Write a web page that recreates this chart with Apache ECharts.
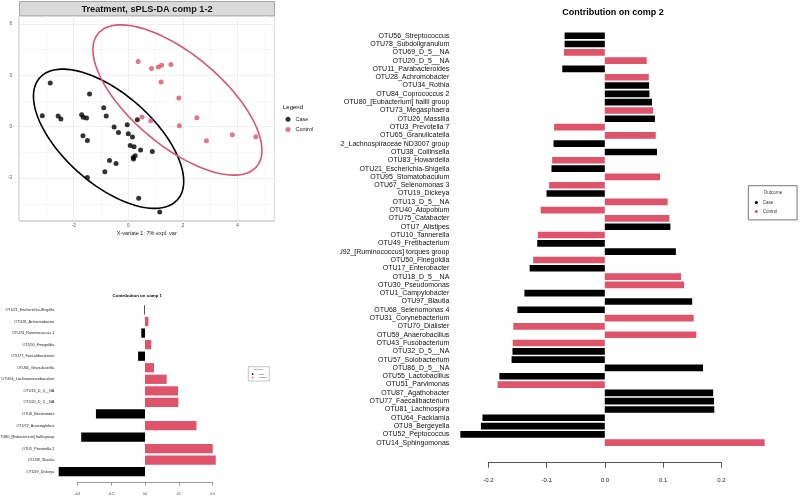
<!DOCTYPE html>
<html>
<head>
<meta charset="utf-8">
<script src="https://cdn.jsdelivr.net/npm/echarts@6.0.0/dist/echarts.min.js"></script>
<style>
html,body{margin:0;padding:0;background:#ffffff;width:800px;height:498px;overflow:hidden}
#a{position:absolute;left:0;top:0;width:340px;height:498px}
#b{position:absolute;left:340px;top:0;width:460px;height:498px}
</style>
</head>
<body>
<div id="a"></div>
<div id="b"></div>
<script>
// ---------------- data ----------------
const caseX = [-2.86,-3.15,-2.57,-2.47,-1.42,-1.71,-1.65,-1.53,-1.66,-1.50,-1.50,-0.90,-0.81,-0.52,-0.36,-0.69,-0.45,-0.86,-0.04,0.00,0.15,0.07,0.21,0.45,0.33,0.25,0.19,0.18,0.88,0.38,1.15];
const caseY = [2.55,0.64,0.62,0.45,1.91,0.70,0.55,0.51,-0.53,-0.80,-2.96,1.11,0.62,-0.02,-0.33,-1.97,-2.14,-2.63,0.12,-0.41,-0.60,-1.09,-1.17,-1.36,0.41,-1.70,-1.89,-1.79,-1.44,-4.17,-4.97];
const controlX = [0.36,0.85,1.10,1.22,1.56,1.20,1.85,0.50,0.82,1.87,2.51,2.86,3.81,4.67];
const controlY = [3.80,3.39,3.49,3.58,3.63,2.61,1.68,0.57,0.35,0.06,0.53,-0.82,-0.47,-0.58];
const scatterXTicks = [-2,0,2,4];
const scatterYTicks = [-3,0,3,6];

const comp1Names = ["OTU21_Escherichia-Shigella","OTU28_Achromobacter","OTU74_Ruminococcus 1","OTU50_Finegoldia","OTU77_Faecalibacterium","OTU65_Granulicatella","OTU94_Lachnoanaerobaculum","OTU13_D_5__NA","OTU20_D_5__NA","OTU6_Bacteroides","OTU72_Anaeroglobus","OTU80_[Eubacterium] hallii group","OTU5_Prevotella 2","OTU39_Slackia","OTU19_Dickeya"];
const comp1Values = [-0.004,0.02,-0.022,0.037,-0.041,0.053,0.128,0.195,0.197,-0.29,0.304,-0.377,0.40,0.418,-0.51];
const comp1Outcome = ["Case","Control","Case","Control","Case","Control","Control","Control","Control","Case","Control","Case","Control","Control","Case"];
const comp1Ticks = [-0.4,-0.2,0.0,0.2,0.4];

const comp2Names = ["OTU56_Streptococcus","OTU78_Subdoligranulum","OTU69_D_5__NA","OTU20_D_5__NA","OTU11_Parabacteroides","OTU28_Achromobacter","OTU34_Rothia","OTU84_Coprococcus 2","OTU80_[Eubacterium] hallii group","OTU73_Megasphaera","OTU26_Massilia","OTU3_Prevotella 7","OTU65_Granulicatella","OTU42_Lachnospiraceae ND3007 group","OTU38_Collinsella","OTU83_Howardella","OTU21_Escherichia-Shigella","OTU95_Stomatobaculum","OTU67_Selenomonas 3","OTU19_Dickeya","OTU13_D_5__NA","OTU40_Atopobium","OTU75_Catabacter","OTU7_Alistipes","OTU10_Tannerella","OTU49_Fretibacterium","OTU92_[Ruminococcus] torques group","OTU50_Finegoldia","OTU17_Enterobacter","OTU18_D_5__NA","OTU30_Pseudomonas","OTU1_Campylobacter","OTU97_Blautia","OTU68_Selenomonas 4","OTU31_Corynebacterium","OTU70_Dialister","OTU59_Anaerobacillus","OTU43_Fusobacterium","OTU32_D_5__NA","OTU57_Solobacterium","OTU86_D_5__NA","OTU55_Lactobacillus","OTU51_Parvimonas","OTU87_Agathobacter","OTU77_Faecalibacterium","OTU81_Lachnospira","OTU64_Facklamia","OTU9_Bergeyella","OTU52_Peptococcus","OTU14_Sphingomonas"];
const comp2Values = [-0.069,-0.069,-0.070,0.072,-0.073,0.0755,0.076,0.0766,0.081,0.083,0.086,-0.087,0.0875,-0.088,0.0897,-0.0904,-0.0915,0.0949,-0.0955,-0.100,0.108,-0.110,0.111,0.1126,-0.115,-0.116,0.122,-0.123,-0.129,0.131,0.136,-0.138,0.150,-0.150,0.1526,-0.157,0.157,-0.158,-0.1585,-0.160,0.1686,-0.181,-0.184,0.186,0.1875,0.188,-0.210,-0.2127,-0.248,0.2744];
const comp2Outcome = ["Case","Case","Control","Control","Case","Control","Case","Case","Case","Control","Case","Control","Control","Case","Case","Control","Case","Control","Control","Case","Control","Control","Control","Case","Control","Case","Case","Control","Case","Control","Control","Case","Case","Case","Control","Control","Control","Control","Case","Case","Case","Case","Control","Case","Case","Case","Case","Case","Case","Control"];
const comp2Ticks = [-0.2,-0.1,0.0,0.1,0.2];

// ---------------- helpers ----------------
const FONT = "'Liberation Sans', Arial, Helvetica, sans-serif";
const BLACK = '#000000', RED = '#DF536B';
const MAJ = '#EBEBEB', MIN = '#F5F5F5';
function near(v, arr){ return arr.some(t => Math.abs(v - t) < 1e-6); }

// 95% confidence ellipse (normal, chi-square 2 df) computed from the points
function ellipsePts(xs, ys, level){
  const n = xs.length;
  const mx = xs.reduce((a,b)=>a+b,0)/n, my = ys.reduce((a,b)=>a+b,0)/n;
  let sxx=0, syy=0, sxy=0;
  for(let i=0;i<n;i++){ const dx=xs[i]-mx, dy=ys[i]-my; sxx+=dx*dx; syy+=dy*dy; sxy+=dx*dy; }
  sxx/=(n-1); syy/=(n-1); sxy/=(n-1);
  const t = Math.sqrt(-2*Math.log(1-level));
  const tr = sxx+syy, det = sxx*syy - sxy*sxy;
  const disc = Math.sqrt(Math.max(tr*tr/4 - det, 0));
  const l1 = tr/2 + disc, l2 = tr/2 - disc;
  let v1x = l1 - syy, v1y = sxy;
  let nn = Math.hypot(v1x, v1y);
  if (nn < 1e-12){ v1x = 1; v1y = 0; nn = 1; }
  v1x/=nn; v1y/=nn;
  const v2x = -v1y, v2y = v1x;
  const pts = [];
  for(let k=0;k<=120;k++){
    const th = 2*Math.PI*k/120;
    const a = t*Math.sqrt(l1)*Math.cos(th), b = t*Math.sqrt(Math.max(l2,0))*Math.sin(th);
    pts.push([mx + a*v1x + b*v2x, my + a*v1y + b*v2y]);
  }
  return pts;
}
function splitBy(values, outcome, key){
  return values.map((v,i)=> outcome[i]===key ? v : '-');
}

// ---------------- chart A: scatter + comp1 ----------------
const chartA = echarts.init(document.getElementById('a'));
chartA.setOption({
  animation:false,
  backgroundColor:'#ffffff',
  textStyle:{fontFamily:FONT},
  title:[
    {text:'Treatment, sPLS-DA comp 1-2', left:147, top:4.8, textAlign:'center', padding:0,
     textStyle:{fontSize:9.2, fontWeight:'bold', color:'#1a1a1a', fontFamily:FONT}},
    {text:'Contribution on comp 1', left:137.3, top:293.6, textAlign:'center', padding:0,
     textStyle:{fontSize:4.4, fontWeight:'bold', color:'#000', fontFamily:FONT}},
    {text:'Legend', left:283, top:104.6, padding:0,
     textStyle:{fontSize:6, fontWeight:'normal', color:'#000', fontFamily:FONT}},
    {text:'Outcome', left:258.5, top:367.8, textAlign:'center', padding:0,
     textStyle:{fontSize:2.5, fontWeight:'normal', color:'#444', fontFamily:FONT}}
  ],
  graphic:[
    {type:'rect', z:-1, shape:{x:19.5, y:1.5, width:255, height:14.5},
     style:{fill:'#D9D9D9', stroke:'#A6A6A6', lineWidth:1}}
  ],
  legend:[
    {data:['Case','Control'], orient:'vertical', left:285.5, top:116.3, itemWidth:5, itemHeight:5,
     itemGap:4.2, icon:'circle', padding:0, selectedMode:false,
     textStyle:{fontSize:5.5, color:'#1a1a1a', fontFamily:FONT}},
    {data:['Case','Control'], orient:'vertical', left:248.3, top:366.7, itemWidth:2, itemHeight:2,
     itemGap:0.6, icon:'circle', padding:[5.7,2.5,2,3.4], selectedMode:false,
     borderColor:'#888', borderWidth:0.5,
     textStyle:{fontSize:2.5, color:'#333', fontFamily:FONT}}
  ],
  grid:[
    {left:19.1, top:16, width:255.3, height:205, show:true, borderColor:'#B3B3B3', borderWidth:1, backgroundColor:'#ffffff', containLabel:false, outerBoundsMode:'none'},
    {left:57.0, top:304.2, width:164.2, height:173.3, containLabel:false, outerBoundsMode:'none'},
    {left:77.3, top:470, width:135.4, height:12.7, containLabel:false, outerBoundsMode:'none'}
  ],
  xAxis:[
    {gridIndex:0, type:'value', min:-4, max:5.35, interval:1,
     axisLine:{show:false}, axisTick:{show:false},
     axisLabel:{fontSize:4.5, color:'#4D4D4D', margin:2, fontFamily:FONT,
       formatter:v=> near(v, scatterXTicks) ? String(Math.round(v)) : ''},
     splitLine:{show:true, lineStyle:{color:[MAJ, MIN], width:0.8}},
     name:'X-variate 1: 7% expl. var', nameLocation:'middle', nameGap:9.5,
     nameTextStyle:{fontSize:5.5, color:'#1a1a1a', fontFamily:FONT}},
    {gridIndex:1, type:'value', min:-0.52, max:0.45, show:false},
    {gridIndex:2, type:'value', min:-0.4, max:0.4, interval:0.2,
     axisLine:{show:true, lineStyle:{color:'#555', width:0.6}},
     axisTick:{show:true, length:3, lineStyle:{color:'#555', width:0.6}},
     axisLabel:{fontSize:3, margin:9.8, color:'#222', fontFamily:FONT,
       formatter:v=> near(v, comp1Ticks) ? v.toFixed(1) : ''},
     splitLine:{show:false}}
  ],
  yAxis:[
    {gridIndex:0, type:'value', min:-5.5, max:6.46, interval:0.5,
     axisLine:{show:false}, axisTick:{show:false},
     axisLabel:{fontSize:4.5, color:'#4D4D4D', margin:7, fontFamily:FONT,
       formatter:v=> near(v, scatterYTicks) ? String(Math.round(v)) : ''},
     splitLine:{show:true, lineStyle:{color:['transparent','transparent',MIN,'transparent','transparent',MAJ], width:0.8}},
     name:'X-variate 2: 6% expl. var', nameLocation:'middle', nameGap:11.5, nameRotate:90,
     nameTextStyle:{fontSize:5.5, color:'#1a1a1a', fontFamily:FONT}},
    {gridIndex:1, type:'category', data:comp1Names, inverse:true,
     axisLine:{show:false}, axisTick:{show:false},
     axisLabel:{interval:0, fontSize:3.8, margin:2.7, color:'#222', fontFamily:FONT}},
    {gridIndex:2, type:'value', show:false}
  ],
  series:[
    {name:'Case ellipse', type:'line', xAxisIndex:0, yAxisIndex:0, data:ellipsePts(caseX, caseY, 0.95),
     symbol:'none', smooth:false, silent:true, z:2, lineStyle:{color:BLACK, width:1.6}},
    {name:'Control ellipse', type:'line', xAxisIndex:0, yAxisIndex:0, data:ellipsePts(controlX, controlY, 0.95),
     symbol:'none', smooth:false, silent:true, z:2, lineStyle:{color:RED, width:1.6}},
    {name:'Case', type:'scatter', xAxisIndex:0, yAxisIndex:0, data:caseX.map((x,i)=>[x, caseY[i]]),
     symbolSize:5, z:3, itemStyle:{color:BLACK}},
    {name:'Control', type:'scatter', xAxisIndex:0, yAxisIndex:0, data:controlX.map((x,i)=>[x, controlY[i]]),
     symbolSize:5, z:3, itemStyle:{color:RED}},
    {name:'Case', type:'bar', xAxisIndex:1, yAxisIndex:1, data:splitBy(comp1Values, comp1Outcome, 'Case'),
     barGap:'-100%', barCategoryGap:'20%', itemStyle:{color:BLACK}},
    {name:'Control', type:'bar', xAxisIndex:1, yAxisIndex:1, data:splitBy(comp1Values, comp1Outcome, 'Control'),
     barGap:'-100%', barCategoryGap:'20%', itemStyle:{color:RED}}
  ]
});

// ---------------- chart B: comp2 ----------------
const chartB = echarts.init(document.getElementById('b'));
chartB.setOption({
  animation:false,
  backgroundColor:'#ffffff',
  textStyle:{fontFamily:FONT},
  title:[
    {text:'Contribution on comp 2', left:273, top:8.5, textAlign:'center', padding:0,
     textStyle:{fontSize:9, fontWeight:'bold', color:'#000', fontFamily:FONT}},
    {text:'Outcome', left:433, top:190.4, textAlign:'center', padding:0,
     textStyle:{fontSize:4.5, fontWeight:'normal', color:'#333', fontFamily:FONT}}
  ],
  legend:{data:['Case','Control'], orient:'vertical', left:408.3, top:185.7, itemWidth:3, itemHeight:3,
    itemGap:3.9, icon:'circle', padding:[14.3,19.8,6,6.5], selectedMode:false,
    borderColor:'#777', borderWidth:1,
    textStyle:{fontSize:4.5, color:'#333', fontFamily:FONT}},
  grid:[
    {left:113.35, top:31.55, width:326.2, height:415.3, containLabel:false, outerBoundsMode:'none'},
    {left:148.3, top:450, width:233, height:12.7, containLabel:false, outerBoundsMode:'none'}
  ],
  xAxis:[
    {gridIndex:0, type:'value', min:-0.26, max:0.3, show:false},
    {gridIndex:1, type:'value', min:-0.2, max:0.2, interval:0.1,
     axisLine:{show:true, lineStyle:{color:'#555', width:1}},
     axisTick:{show:true, length:5, lineStyle:{color:'#555', width:1}},
     axisLabel:{fontSize:6, margin:14.3, color:'#222', fontFamily:FONT,
       formatter:v=> near(v, comp2Ticks) ? v.toFixed(1) : ''},
     splitLine:{show:false}}
  ],
  yAxis:[
    {gridIndex:0, type:'category', data:comp2Names, inverse:true,
     axisLine:{show:false}, axisTick:{show:false},
     axisLabel:{interval:0, fontSize:7, margin:4.05, color:'#111', fontFamily:FONT}},
    {gridIndex:1, type:'value', show:false}
  ],
  series:[
    {name:'Case', type:'bar', xAxisIndex:0, yAxisIndex:0, data:splitBy(comp2Values, comp2Outcome, 'Case'),
     barGap:'-100%', barCategoryGap:'20%', itemStyle:{color:BLACK}},
    {name:'Control', type:'bar', xAxisIndex:0, yAxisIndex:0, data:splitBy(comp2Values, comp2Outcome, 'Control'),
     barGap:'-100%', barCategoryGap:'20%', itemStyle:{color:RED}}
  ]
});
</script>
</body>
</html>
